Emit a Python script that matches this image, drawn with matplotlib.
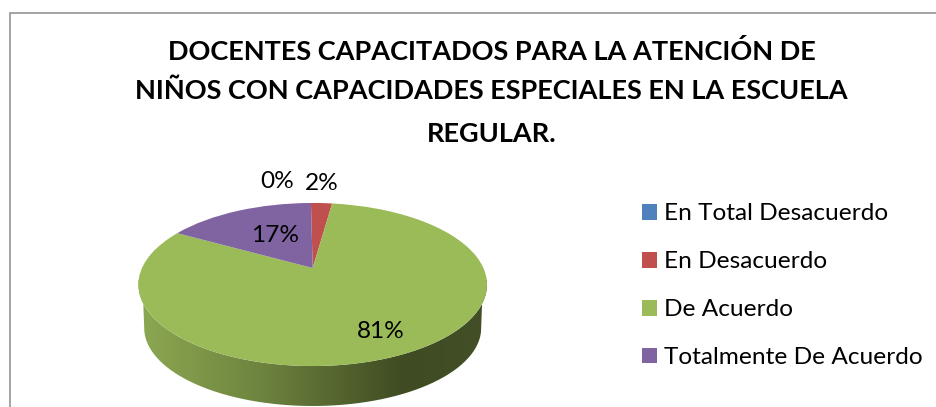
import numpy as np
import matplotlib
matplotlib.use("Agg")
import matplotlib.pyplot as plt
from matplotlib.colors import LinearSegmentedColormap
from matplotlib.patches import PathPatch
from matplotlib.path import Path
from matplotlib.transforms import Transform

plt.rcParams['font.family'] = ['Lato', 'DejaVu Sans']

title_lines = ["DOCENTES CAPACITADOS PARA LA ATENCIÓN DE",
               "NIÑOS CON CAPACIDADES ESPECIALES EN LA ESCUELA",
               "REGULAR."]
categories = ["En Total Desacuerdo", "En Desacuerdo", "De Acuerdo", "Totalmente De Acuerdo"]
values = [0, 1, 34, 7]
colors = ["#4F81BD", "#C0504D", "#9BBB59", "#8064A2"]
label_pos = [(277, 181.5), (322, 183.5), (381, 332), (275, 235.5)]

W, H = 936, 407
CX, CY = 312.7, 268.0
PERSP, SX, SY = 0.2025, 170.7, 78.2


class Tilt(Transform):
    """Perspective view of the flat unit-circle pie, into pixel-like data units."""
    input_dims = output_dims = 2

    def transform_non_affine(self, v):
        v = np.asarray(v, float)
        d = 1 + PERSP * v[:, 1]
        return np.column_stack([CX + SX * v[:, 0] / d, CY - SY * v[:, 1] / d])


fig = plt.figure(figsize=(W / 100, H / 100), dpi=100)
ax = fig.add_axes([0, 0, 1, 1])

wedges, _ = ax.pie(values, colors=colors, startangle=90.7, counterclock=False, radius=1,
                   wedgeprops=dict(linewidth=0))
ax.set_aspect('auto')
ax.set_xlim(0, W)
ax.set_ylim(H, 0)
ax.axis('off')

tilt = Tilt()
for w in wedges:
    w.set_transform(tilt + ax.transData)
    w.set_zorder(3)

# side wall of the disc, with a left-to-right shading
t = np.linspace(np.pi, 2 * np.pi, 200)
top = tilt.transform(np.column_stack([np.cos(t), np.sin(t)]))
a = np.linspace(0, np.pi, 200)
bot = np.column_stack([CX - 168.5 * np.cos(a), 328 + 78 * np.sin(a)])
band = np.vstack([top, bot[::-1]])
patch = PathPatch(Path(band), facecolor='none', edgecolor='none', transform=ax.transData)
ax.add_patch(patch)
cmap = LinearSegmentedColormap.from_list("side", [(0, "#8DA852"), (0.35, "#6E843F"),
                                                  (0.76, "#3F4B22"), (1, "#434F26")])
im = ax.imshow(np.linspace(0, 1, 256)[None, :], cmap=cmap, aspect='auto',
               extent=(138, 487, 407, 280), zorder=2)
im.set_clip_path(patch)
ax.set_xlim(0, W)
ax.set_ylim(H, 0)

# percentage labels
total = sum(values)
for v, (x, y) in zip(values, label_pos):
    ax.text(x, y, f"{100 * v / total:.0f}%", ha='center', va='center', fontsize=17.6,
            color='black', zorder=5)

# title
for line, y in zip(title_lines, [52, 91, 134]):
    ax.text(491.5, y, line, ha='center', va='center', fontsize=19.5, fontweight='bold',
            color='black')

# chart frame
ax.plot([9.5, 9.5, W], [H, 12.5, 12.5], color='#8C8C8C', lw=1.1, clip_on=False,
        solid_joinstyle='miter')

# legend
fs = 17.6
fpx = fs * 100 / 72
leg = ax.legend(wedges, categories, loc='upper left', bbox_to_anchor=(642 / W, 1 - 203.5 / H),
                bbox_transform=fig.transFigure, frameon=False, fontsize=fs,
                borderpad=0, borderaxespad=0, handlelength=15 / fpx, handleheight=15 / fpx,
                handletextpad=7 / fpx, labelspacing=26.9 / fpx)

fig.savefig("out.png", dpi=100)
